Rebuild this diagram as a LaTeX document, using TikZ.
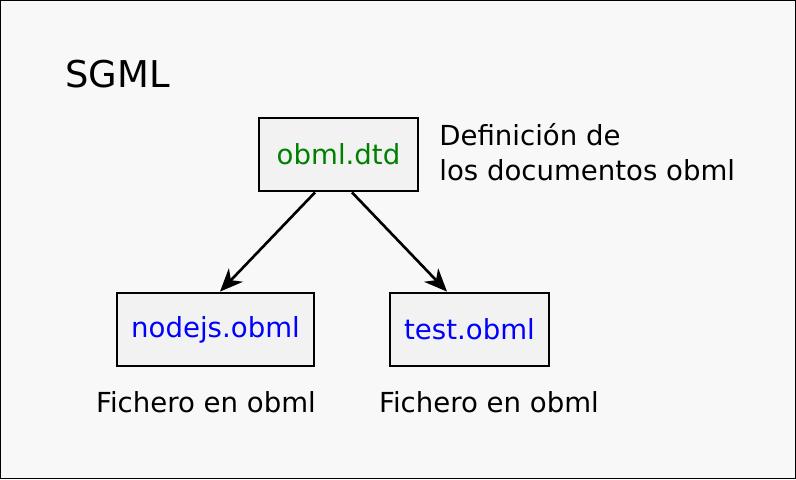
\documentclass[tikz,border=0pt]{standalone}
\usepackage{fontspec}
\setmainfont{DejaVu Sans}
\usetikzlibrary{arrows.meta, positioning, calc}
\definecolor{bgGray}{HTML}{F8F8F8}
\definecolor{boxGray}{HTML}{F2F2F2}
\definecolor{dtdGreen}{HTML}{008000}
\definecolor{fileBlue}{HTML}{0000FF}
\tikzset{
    % boxes for the files
    filebox/.style={
        rectangle,
        draw=black,
        fill=boxGray,
        line width=1.6pt,
        minimum height=1.46cm,
        text centered,
        font=\fontsize{15.7}{19}\selectfont
    },
    % plain captions
    caption/.style={
        anchor=base west,
        align=left,
        font=\fontsize{15.7}{19.9}\selectfont
    },
    % arrows
    myarrow/.style={
        -{Stealth[length=13pt,width=11pt,inset=4pt]},
        line width=1.5pt,
        black
    }
}
\begin{document}
\begin{tikzpicture}[x=0.02cm, y=-0.02cm]
    % background
    \draw[fill=bgGray, draw=black, line width=0.6pt] (0.5,0.5) rectangle (795.5,478.5);
    \useasboundingbox (0,0) rectangle (796,479);

    % title
    \node[caption, font=\fontsize{21}{25}\selectfont, inner sep=0pt] (sgml) at (65,87) {SGML};

    % dtd
    \node[filebox, minimum width=3.18cm, text=dtdGreen] (dtd) at (338.5,154.5) {obml.dtd\hspace{0.25cm}};
    \node[caption, inner sep=0pt] (dtddesc) at (439,180) {Definición de\\los documentos obml};

    % documents
    \node[filebox, minimum width=3.94cm, text=fileBlue] (nodejs) at (215.5,329.5) {nodejs.obml};
    \node[filebox, minimum width=3.18cm, text=fileBlue] (test) at (469.5,329.5) {test.obml};
    \node[caption, anchor=base, inner sep=0pt] (nodejsdesc) at (206,413) {Fichero en obml};
    \node[caption, anchor=base, inner sep=0pt] (testdesc) at (489,413) {Fichero en obml};

    \draw[myarrow] ([xshift=-0.47cm]dtd.south) -- ([xshift=0.09cm]nodejs.north);
    \draw[myarrow] ([xshift=0.27cm]dtd.south) -- ([xshift=-0.45cm]test.north);
\end{tikzpicture}
\end{document}
